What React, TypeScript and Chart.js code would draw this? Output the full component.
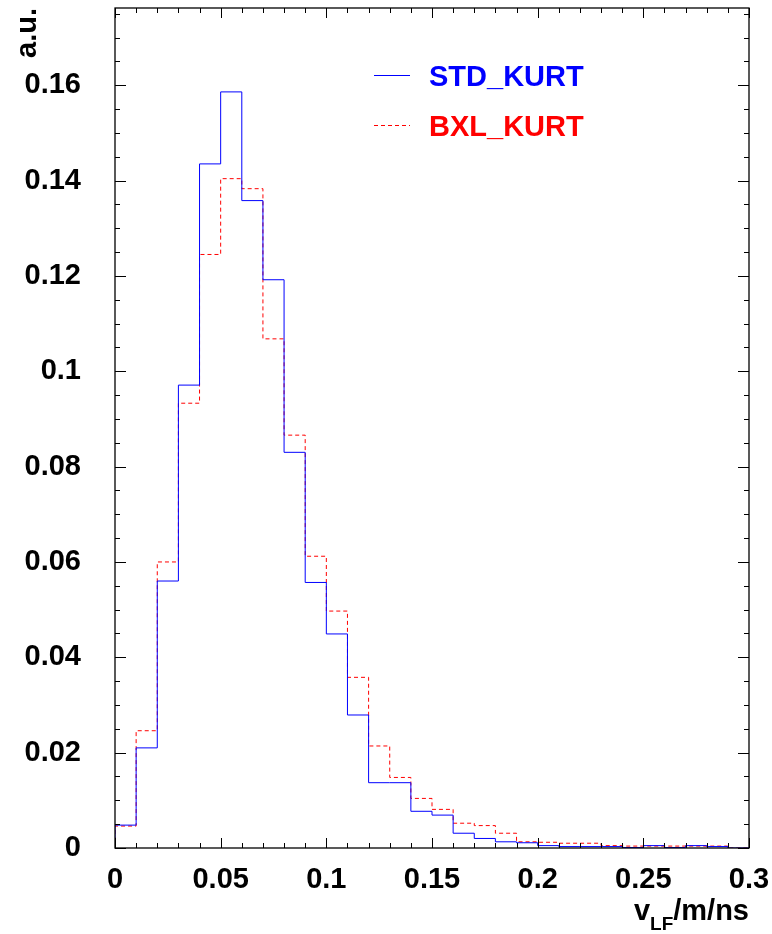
import React, { useEffect, useRef } from "react";
import { Chart, registerables } from "chart.js";

Chart.register(...registerables);

// Histogram bins: 30 bins of width 0.01 from 0 to 0.3
const binLowEdges = [
  0, 0.01, 0.02, 0.03, 0.04, 0.05, 0.06, 0.07, 0.08, 0.09,
  0.1, 0.11, 0.12, 0.13, 0.14, 0.15, 0.16, 0.17, 0.18, 0.19,
  0.2, 0.21, 0.22, 0.23, 0.24, 0.25, 0.26, 0.27, 0.28, 0.29,
];
const xMax = 0.3;

const stdKurt = [
  0.0048, 0.021, 0.056, 0.0971, 0.1435, 0.1586, 0.1358, 0.1192, 0.083, 0.0557,
  0.0449, 0.0279, 0.0137, 0.0137, 0.0077, 0.0069, 0.0031, 0.002, 0.0013, 0.0011,
  0.0005, 0.0003, 0.0003, 0.0003, 0.0001, 0.0005, 0.0001, 0.0005, 0.0003, 0.0,
];
const bxlKurt = [
  0.0046, 0.0246, 0.06, 0.0933, 0.1245, 0.1404, 0.1383, 0.1068, 0.0866, 0.0612,
  0.0497, 0.0358, 0.0214, 0.0148, 0.0104, 0.0081, 0.0052, 0.0047, 0.0031, 0.0013,
  0.0012, 0.001, 0.001, 0.0005, 0.0004, 0.0004, 0.0004, 0.0004, 0.0004, 0.0,
];

const xTickValues = [0, 0.05, 0.1, 0.15, 0.2, 0.25, 0.3];
const xTickLabels = ["0", "0.05", "0.1", "0.15", "0.2", "0.25", "0.3"];
const yTickValues = [0, 0.02, 0.04, 0.06, 0.08, 0.1, 0.12, 0.14, 0.16];
const yTickLabels = ["0", "0.02", "0.04", "0.06", "0.08", "0.1", "0.12", "0.14", "0.16"];
const yMax = 0.1762;
const xMinorStep = 0.01;
const yMinorStep = 0.005;

const seriesNames = ["STD_KURT", "BXL_KURT"];
const seriesColors = ["#0000ff", "#ff0000"];
const redDash = [4, 3];

const FONT = "'Liberation Sans', Arial, Helvetica, sans-serif";

function histPoints(values: number[]) {
  const pts: { x: number; y: number }[] = [{ x: binLowEdges[0], y: 0 }];
  values.forEach((v, i) => pts.push({ x: binLowEdges[i], y: v }));
  pts.push({ x: xMax, y: 0 });
  return pts;
}

const framePlugin = {
  id: "rootFrame",
  afterDraw(chart: any) {
    const { ctx, chartArea, scales } = chart;
    const { left, right, top, bottom } = chartArea;
    const xs = scales.x;
    const ys = scales.y;
    ctx.save();
    // ticks
    ctx.strokeStyle = "#000";
    ctx.lineWidth = 1;
    ctx.beginPath();
    const nX = Math.round(xMax / xMinorStep);
    for (let i = 0; i <= nX; i++) {
      const v = i * xMinorStep;
      const px = Math.round(xs.getPixelForValue(v)) + 0.5;
      const major = i % 5 === 0;
      const len = major ? 10 : 5;
      ctx.moveTo(px, bottom);
      ctx.lineTo(px, bottom - len);
      ctx.moveTo(px, top);
      ctx.lineTo(px, top + len);
    }
    const nY = Math.floor(yMax / yMinorStep + 1e-6);
    for (let i = 0; i <= nY; i++) {
      const v = i * yMinorStep;
      const py = Math.round(ys.getPixelForValue(v)) + 0.5;
      const major = i % 4 === 0;
      const len = major ? 11 : 5;
      ctx.moveTo(left, py);
      ctx.lineTo(left + len, py);
      ctx.moveTo(right, py);
      ctx.lineTo(right - len, py);
    }
    ctx.stroke();
    // frame
    ctx.lineWidth = 1.3;
    ctx.strokeRect(left, top, right - left, bottom - top);

    // legend
    const lx0 = 374;
    const lx1 = 410;
    const rows = [75, 125];
    rows.forEach((ry, i) => {
      ctx.beginPath();
      ctx.strokeStyle = seriesColors[i];
      ctx.lineWidth = 1;
      ctx.setLineDash(i === 0 ? [] : redDash);
      ctx.moveTo(lx0, ry + 0.5);
      ctx.lineTo(lx1, ry + 0.5);
      ctx.stroke();
      ctx.setLineDash([]);
      ctx.fillStyle = seriesColors[i];
      ctx.font = `bold 29px ${FONT}`;
      ctx.textAlign = "left";
      ctx.textBaseline = "alphabetic";
      ctx.fillText(seriesNames[i], 429, ry + 11);
    });

    // x title with subscript
    ctx.fillStyle = "#000";
    ctx.textBaseline = "alphabetic";
    ctx.textAlign = "left";
    const baseY = 920;
    ctx.font = `bold 29px ${FONT}`;
    const wRest = ctx.measureText("/m/ns").width;
    const wV = ctx.measureText("v").width;
    ctx.font = `bold 19px ${FONT}`;
    const wSub = ctx.measureText("LF").width;
    const endX = 749;
    const startX = endX - wRest - wSub - wV;
    ctx.font = `bold 29px ${FONT}`;
    ctx.fillText("v", startX, baseY);
    ctx.font = `bold 19px ${FONT}`;
    ctx.fillText("LF", startX + wV, baseY + 10);
    ctx.font = `bold 29px ${FONT}`;
    ctx.fillText("/m/ns", startX + wV + wSub, baseY);

    // y title (rotated)
    ctx.save();
    ctx.translate(36, 8);
    ctx.rotate(-Math.PI / 2);
    ctx.textAlign = "right";
    ctx.textBaseline = "alphabetic";
    ctx.font = `bold 29px ${FONT}`;
    ctx.fillText("a.u.", 0, 0);
    ctx.restore();

    ctx.restore();
  },
};

function zeroPad(scale: any) {
  scale.paddingTop = 0;
  scale.paddingBottom = 0;
  scale.paddingLeft = 0;
  scale.paddingRight = 0;
}

export default function App() {
  const canvasRef = useRef<HTMLCanvasElement | null>(null);

  useEffect(() => {
    if (!canvasRef.current) return;
    const chart = new Chart(canvasRef.current, {
      type: "line",
      data: {
        datasets: [
          {
            label: seriesNames[0],
            data: histPoints(stdKurt),
            borderColor: seriesColors[0],
            borderWidth: 1,
            stepped: "before",
            pointRadius: 0,
            fill: false,
          },
          {
            label: seriesNames[1],
            data: histPoints(bxlKurt),
            borderColor: seriesColors[1],
            borderWidth: 1,
            borderDash: redDash,
            stepped: "before",
            pointRadius: 0,
            fill: false,
          },
        ],
      },
      options: {
        animation: false,
        responsive: false,
        devicePixelRatio: 1,
        layout: { padding: { left: 0, top: 8, right: 23, bottom: 0 } },
        plugins: {
          legend: { display: false },
          tooltip: { enabled: false },
        },
        scales: {
          x: {
            type: "linear",
            min: 0,
            max: xMax,
            grid: { display: false, drawTicks: false },
            border: { display: false },
            afterBuildTicks: (scale: any) => {
              scale.ticks = xTickValues.map((v) => ({ value: v }));
            },
            afterFit: (scale: any) => {
              scale.height = 86;
              zeroPad(scale);
            },
            ticks: {
              autoSkip: false,
              maxRotation: 0,
              padding: 15,
              color: "#000",
              font: { family: FONT, size: 29, weight: "bold" },
              callback: (v: any) => {
                const i = xTickValues.findIndex((t) => Math.abs(t - v) < 1e-9);
                return i >= 0 ? xTickLabels[i] : "";
              },
            },
          },
          y: {
            type: "linear",
            min: 0,
            max: yMax,
            grid: { display: false, drawTicks: false },
            border: { display: false },
            afterBuildTicks: (scale: any) => {
              scale.ticks = yTickValues.map((v) => ({ value: v }));
            },
            afterFit: (scale: any) => {
              scale.width = 115;
              zeroPad(scale);
            },
            ticks: {
              autoSkip: false,
              padding: 34,
              color: "#000",
              font: { family: FONT, size: 29, weight: "bold" },
              callback: (v: any) => {
                const i = yTickValues.findIndex((t) => Math.abs(t - v) < 1e-9);
                return i >= 0 ? yTickLabels[i] : "";
              },
            },
          },
        },
      },
      plugins: [framePlugin],
    });
    return () => chart.destroy();
  }, []);

  return (
    <div style={{ position: "fixed", left: 0, top: 0, width: 772, height: 934, background: "#fff" }}>
      <canvas ref={canvasRef} width={772} height={934} style={{ width: 772, height: 934 }} />
    </div>
  );
}
